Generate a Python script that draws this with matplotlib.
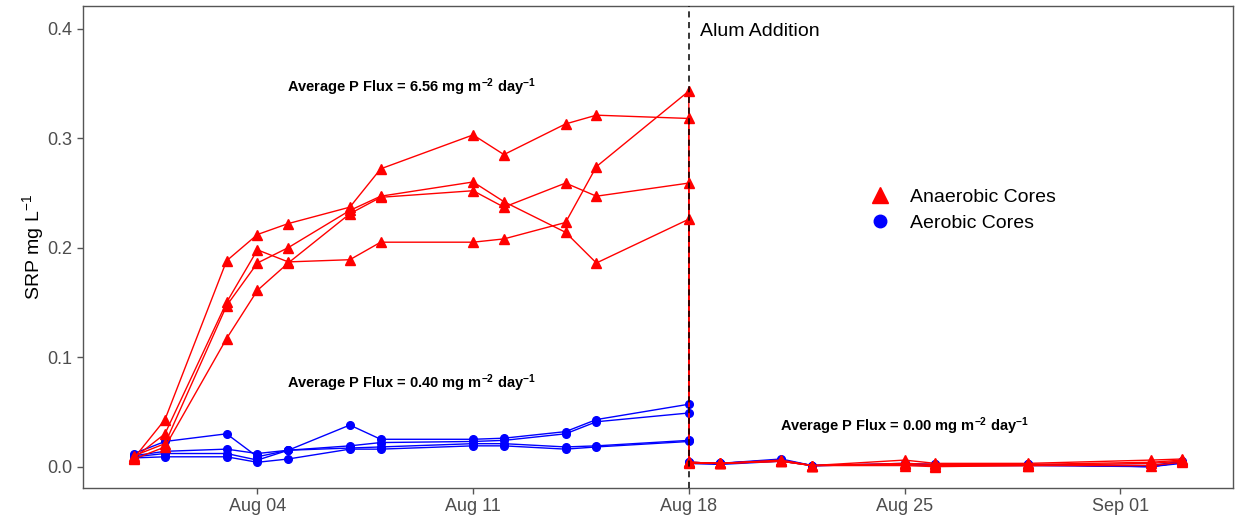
import matplotlib
matplotlib.use("Agg")
import matplotlib.pyplot as plt
import matplotlib.dates as mdates
from matplotlib.lines import Line2D
import pandas as pd

plt.rcParams["font.family"] = ["Liberation Sans", "DejaVu Sans"]
plt.rcParams["mathtext.default"] = "regular"

# sampling dates before the alum addition (Aug 18 repeats for the post value)
pre_dates = ["2019-07-31", "2019-08-01", "2019-08-03", "2019-08-04", "2019-08-05", "2019-08-07",
             "2019-08-08", "2019-08-11", "2019-08-12", "2019-08-14", "2019-08-15", "2019-08-18"]
post_dates = ["2019-08-18", "2019-08-19", "2019-08-21", "2019-08-22", "2019-08-25", "2019-08-26",
              "2019-08-29", "2019-09-02", "2019-09-03"]

# anaerobic cores (SRP mg/L)
anaerobic_pre = [
    [0.008, 0.043, 0.188, 0.212, 0.222, 0.237, 0.272, 0.303, 0.285, 0.313, 0.321, 0.318],
    [0.010, 0.021, 0.147, 0.186, 0.200, 0.234, 0.247, 0.260, 0.242, 0.214, 0.186, 0.226],
    [0.007, 0.018, 0.117, 0.161, 0.186, 0.231, 0.246, 0.252, 0.237, 0.259, 0.247, 0.259],
    [0.008, 0.030, 0.150, 0.198, 0.187, 0.189, 0.205, 0.205, 0.208, 0.223, 0.274, 0.343],
]
anaerobic_post = [
    [0.004, 0.003, 0.006, 0.001, 0.006, 0.003, 0.003, 0.006, 0.007],
    [0.004, 0.003, 0.005, 0.001, 0.003, 0.002, 0.002, 0.004, 0.006],
    [0.004, 0.003, 0.005, 0.001, 0.002, 0.001, 0.001, 0.003, 0.005],
    [0.003, 0.003, 0.005, 0.001, 0.001, 0.000, 0.001, 0.001, 0.004],
]

# aerobic cores (SRP mg/L)
aerobic_pre = [
    [0.012, 0.023, 0.030, 0.009, 0.015, 0.038, 0.025, 0.025, 0.026, 0.032, 0.043, 0.057],
    [0.010, 0.014, 0.016, 0.012, 0.015, 0.019, 0.022, 0.023, 0.024, 0.030, 0.041, 0.049],
    [0.009, 0.012, 0.012, 0.006, 0.015, 0.017, 0.018, 0.021, 0.021, 0.018, 0.019, 0.024],
    [0.008, 0.009, 0.009, 0.004, 0.007, 0.016, 0.016, 0.019, 0.019, 0.016, 0.018, 0.023],
]
aerobic_post = [
    [0.004, 0.003, 0.007, 0.001, 0.003, 0.002, 0.002, 0.001, 0.005],
    [0.004, 0.003, 0.006, 0.001, 0.002, 0.002, 0.002, 0.000, 0.004],
    [0.003, 0.003, 0.006, 0.001, 0.002, 0.001, 0.002, 0.000, 0.004],
    [0.003, 0.002, 0.005, 0.001, 0.002, 0.001, 0.001, 0.000, 0.003],
]

flux_labels = ["6.56", "0.40", "0.00"]
flux_x = ["2019-08-09", "2019-08-09", "2019-08-25"]
flux_y = [0.347, 0.076, 0.037]

alum_date = "2019-08-18"
tick_dates = ["2019-08-04", "2019-08-11", "2019-08-18", "2019-08-25", "2019-09-01"]

red = "#FF0000"
blue = "#0000FF"

pre_x = pd.to_datetime(pre_dates)
post_x = pd.to_datetime(post_dates)

fig = plt.figure(figsize=(12.35, 5.18), dpi=100)
ax = fig.add_axes([0.0672, 0.0579, 0.9312, 0.9305])

for pre, post in zip(aerobic_pre, aerobic_post):
    xs = list(pre_x) + list(post_x)
    ys = pre + post
    ax.plot(xs, ys, color=blue, lw=1.0, marker="o", ms=5.5, zorder=2)

for pre, post in zip(anaerobic_pre, anaerobic_post):
    xs = list(pre_x) + list(post_x)
    ys = pre + post
    ax.plot(xs, ys, color=red, lw=1.0, marker="^", ms=6.5, zorder=3)

ax.axvline(pd.to_datetime(alum_date), color="black", ls=(0, (4, 3)), lw=1.1, zorder=4)
ax.text(pd.to_datetime(alum_date) + pd.Timedelta(hours=9), 0.397, "Alum Addition",
        fontsize=14, ha="left", va="center", color="black")

for lab, fx, fy in zip(flux_labels, flux_x, flux_y):
    ax.text(pd.to_datetime(fx), fy,
            "Average P Flux = " + lab + " mg m$^{-2}$ day$^{-1}$",
            fontsize=10.5, fontweight="bold", ha="center", va="center", color="black")

handles = [
    Line2D([], [], color=red, marker="^", ls="none", ms=11),
    Line2D([], [], color=blue, marker="o", ls="none", ms=9),
]
ax.legend(handles, ["Anaerobic Cores", "Aerobic Cores"], loc="center left",
          bbox_to_anchor=(0.664, 0.576), frameon=False, fontsize=14,
          handletextpad=0.75, labelspacing=0.42, handlelength=1.6)

ax.set_xlim(pd.to_datetime("2019-07-31") - pd.Timedelta(days=1.66),
            pd.to_datetime("2019-09-03") + pd.Timedelta(days=1.66))
ax.set_ylim(-0.0195, 0.4207)
ax.set_yticks([0.0, 0.1, 0.2, 0.3, 0.4])
ax.set_xticks(pd.to_datetime(tick_dates))
ax.xaxis.set_major_formatter(mdates.DateFormatter("%b %d"))
ax.set_ylabel("SRP mg L$^{-1}$", fontsize=14, labelpad=1)

for side in ax.spines.values():
    side.set_color("#555555")
    side.set_linewidth(1.0)
ax.tick_params(colors="#555555", labelcolor="#4D4D4D", labelsize=13, length=4, width=1.0)

fig.savefig("out.png", dpi=100)
